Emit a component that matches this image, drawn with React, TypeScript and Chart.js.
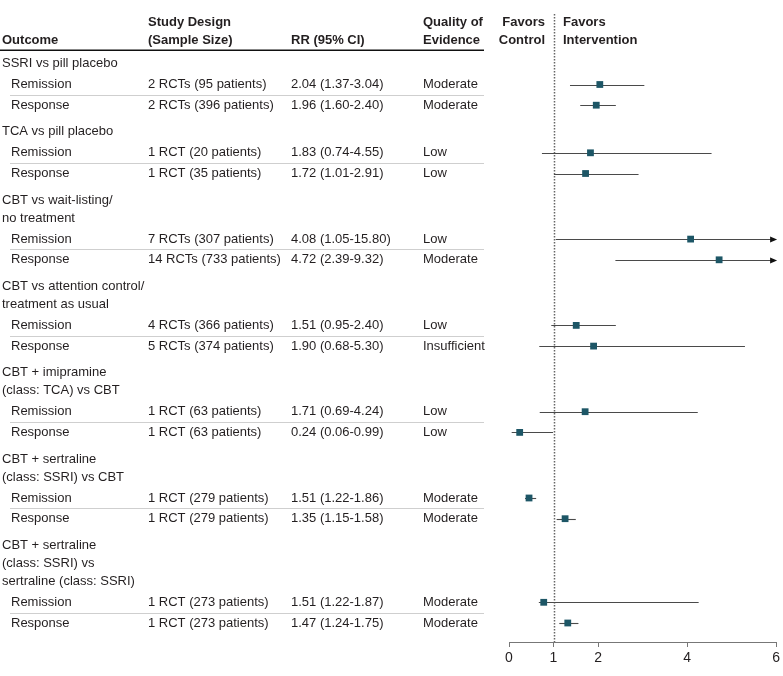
import React, { useEffect, useRef } from "react";
import { Chart, registerables } from "chart.js";

Chart.register(...registerables);

const FONT = "'Liberation Sans', Arial, sans-serif";

const groupLabels: string[][] = [
  ["SSRI vs pill placebo"],
  ["TCA vs pill placebo"],
  ["CBT vs wait-listing/", "no treatment"],
  ["CBT vs attention control/", "treatment as usual"],
  ["CBT + imipramine", "(class: TCA) vs CBT"],
  ["CBT + sertraline", "(class: SSRI) vs CBT"],
  ["CBT + sertraline", "(class: SSRI) vs", "sertraline (class: SSRI)"],
];
const outcomes = ["Remission", "Response"];
const designs = [
  "2 RCTs (95 patients)", "2 RCTs (396 patients)",
  "1 RCT (20 patients)", "1 RCT (35 patients)",
  "7 RCTs (307 patients)", "14 RCTs (733 patients)",
  "4 RCTs (366 patients)", "5 RCTs (374 patients)",
  "1 RCT (63 patients)", "1 RCT (63 patients)",
  "1 RCT (279 patients)", "1 RCT (279 patients)",
  "1 RCT (273 patients)", "1 RCT (273 patients)",
];
const rrLabels = [
  "2.04 (1.37-3.04)", "1.96 (1.60-2.40)",
  "1.83 (0.74-4.55)", "1.72 (1.01-2.91)",
  "4.08 (1.05-15.80)", "4.72 (2.39-9.32)",
  "1.51 (0.95-2.40)", "1.90 (0.68-5.30)",
  "1.71 (0.69-4.24)", "0.24 (0.06-0.99)",
  "1.51 (1.22-1.86)", "1.35 (1.15-1.58)",
  "1.51 (1.22-1.87)", "1.47 (1.24-1.75)",
];
const quality = [
  "Moderate", "Moderate", "Low", "Low", "Low", "Moderate", "Low",
  "Insufficient", "Low", "Low", "Moderate", "Moderate", "Moderate", "Moderate",
];
// values as drawn in the plot
const estimates = [2.04, 1.96, 1.83, 1.72, 4.08, 4.72, 1.51, 1.9, 1.71, 0.24, 0.45, 1.26, 0.78, 1.32];
const ciLow = [1.37, 1.6, 0.74, 1.01, 1.05, 2.39, 0.95, 0.68, 0.69, 0.06, 0.36, 1.07, 0.67, 1.13];
const ciHigh = [3.04, 2.4, 4.55, 2.91, 15.8, 9.32, 2.4, 5.3, 4.24, 0.99, 0.61, 1.5, 4.26, 1.56];
const xTicks = [0, 1, 2, 4, 6];
const X_MIN = 0;
const X_MAX = 6;
const NULL_VALUE = 1;

// layout
const TOP = 63.5;
const LINE = 18;
const HEAD_GAP = 21;
const ROW_GAP = 20.7;
const GROUP_GAP = 26.6;
const AREA_TOP = 50;
const AREA_BOTTOM = 642;

const headerY: number[] = [];
const rowY: number[] = [];
(() => {
  let y = TOP;
  groupLabels.forEach((g) => {
    g.forEach((_, li) => {
      headerY.push(y);
      if (li < g.length - 1) y += LINE;
    });
    y += HEAD_GAP;
    rowY.push(y);
    y += ROW_GAP;
    rowY.push(y);
    y += GROUP_GAP;
  });
})();

const MARK = "#1d5666";
const TEXT = "#231f20";
const COL_OUT = 2;
const COL_OUT_ROW = 11;
const COL_DESIGN = 148;
const COL_RR = 291;
const COL_Q = 423;
const TABLE_RIGHT = 484;

const forestPlugin = {
  id: "forest",
  beforeDatasetsDraw(chart: any) {
    const { ctx, scales } = chart;
    const xs = scales.x;
    const ys = scales.y;
    ctx.save();
    // null line
    const nx = Math.round(xs.getPixelForValue(NULL_VALUE)) + 0.5;
    ctx.strokeStyle = "#666";
    ctx.lineWidth = 1.5;
    ctx.setLineDash([1.5, 1.5]);
    ctx.beginPath();
    ctx.moveTo(nx, 14);
    ctx.lineTo(nx, AREA_BOTTOM);
    ctx.stroke();
    ctx.setLineDash([]);
    // CI lines
    estimates.forEach((_, i) => {
      const y = Math.round(ys.getPixelForValue(rowY[i])) + 0.5;
      const x1 = xs.getPixelForValue(Math.max(ciLow[i], X_MIN));
      const over = ciHigh[i] > X_MAX;
      const x2 = xs.getPixelForValue(Math.min(ciHigh[i], X_MAX));
      ctx.strokeStyle = "#4a4a4a";
      ctx.lineWidth = 1.1;
      ctx.beginPath();
      ctx.moveTo(x1, y);
      ctx.lineTo(over ? x2 - 4 : x2, y);
      ctx.stroke();
      if (over) {
        ctx.fillStyle = "#111";
        ctx.beginPath();
        ctx.moveTo(x2 + 1, y);
        ctx.lineTo(x2 - 6, y - 3);
        ctx.lineTo(x2 - 6, y + 3);
        ctx.closePath();
        ctx.fill();
      }
    });
    ctx.restore();
  },
  afterDraw(chart: any) {
    const { ctx, scales } = chart;
    const ys = scales.y;
    ctx.save();
    ctx.textBaseline = "middle";
    ctx.fillStyle = TEXT;
    // header
    ctx.font = `bold 13px ${FONT}`;
    ctx.textAlign = "left";
    ctx.fillText("Outcome", COL_OUT, 40);
    ctx.fillText("Study Design", COL_DESIGN, 22);
    ctx.fillText("(Sample Size)", COL_DESIGN, 40);
    ctx.fillText("RR (95% CI)", COL_RR, 40);
    ctx.fillText("Quality of", COL_Q, 22);
    ctx.fillText("Evidence", COL_Q, 40);
    ctx.textAlign = "right";
    ctx.fillText("Favors", 545, 22);
    ctx.fillText("Control", 545, 40);
    ctx.textAlign = "left";
    ctx.fillText("Favors", 563, 22);
    ctx.fillText("Intervention", 563, 40);
    // header rule
    ctx.strokeStyle = "#111";
    ctx.lineWidth = 1.5;
    ctx.beginPath();
    ctx.moveTo(0, 50.25);
    ctx.lineTo(TABLE_RIGHT, 50.25);
    ctx.stroke();
    // group labels
    ctx.font = `13px ${FONT}`;
    groupLabels.flat().forEach((t, i) => {
      ctx.fillText(t, COL_OUT, ys.getPixelForValue(headerY[i]));
    });
    // rows
    rrLabels.forEach((rr, i) => {
      const y = ys.getPixelForValue(rowY[i]);
      ctx.fillText(outcomes[i % 2], COL_OUT_ROW, y);
      ctx.fillText(designs[i], COL_DESIGN, y);
      ctx.fillText(rr, COL_RR, y);
      ctx.fillText(quality[i], COL_Q, y);
      if (i % 2 === 0) {
        const sy = Math.round((y + ys.getPixelForValue(rowY[i + 1])) / 2) + 0.5;
        ctx.strokeStyle = "#cfcfcf";
        ctx.lineWidth = 1;
        ctx.beginPath();
        ctx.moveTo(COL_OUT_ROW - 1, sy);
        ctx.lineTo(TABLE_RIGHT, sy);
        ctx.stroke();
      }
    });
    ctx.restore();
  },
};

export default function App() {
  const ref = useRef<HTMLCanvasElement | null>(null);
  useEffect(() => {
    if (!ref.current) return;
    const chart = new Chart(ref.current, {
      type: "scatter",
      data: {
        datasets: [
          {
            data: estimates.map((v, i) => ({ x: v, y: rowY[i] })),
            pointStyle: "rect",
            radius: 4.8,
            backgroundColor: MARK,
            borderColor: MARK,
            borderWidth: 0,
          },
        ],
      },
      options: {
        animation: false,
        responsive: false,
        maintainAspectRatio: false,
        events: [],
        layout: { padding: { left: 509, right: 4, top: AREA_TOP, bottom: 0 } },
        plugins: { legend: { display: false }, tooltip: { enabled: false } },
        scales: {
          x: {
            type: "linear",
            min: X_MIN,
            max: X_MAX,
            afterBuildTicks: (s: any) => {
              s.ticks = xTicks.map((v) => ({ value: v }));
            },
            afterFit: (s: any) => {
              s.height = 676 - AREA_BOTTOM;
            },
            grid: { drawOnChartArea: false, drawTicks: true, tickLength: 5, color: "#777" },
            border: { display: true, color: "#777", width: 1 },
            ticks: {
              font: { family: FONT, size: 14 },
              color: TEXT,
              padding: 3,
              autoSkip: false,
              maxRotation: 0,
            },
          },
          y: {
            type: "linear",
            display: false,
            min: AREA_TOP,
            max: AREA_BOTTOM,
            reverse: true,
          },
        },
      } as any,
      plugins: [forestPlugin],
    });
    return () => chart.destroy();
  }, []);
  return (
    <div style={{ position: "fixed", left: 0, top: 0, width: 783, height: 676, background: "#fff" }}>
      <canvas ref={ref} width={783} height={676} style={{ width: 783, height: 676, display: "block" }} />
    </div>
  );
}
